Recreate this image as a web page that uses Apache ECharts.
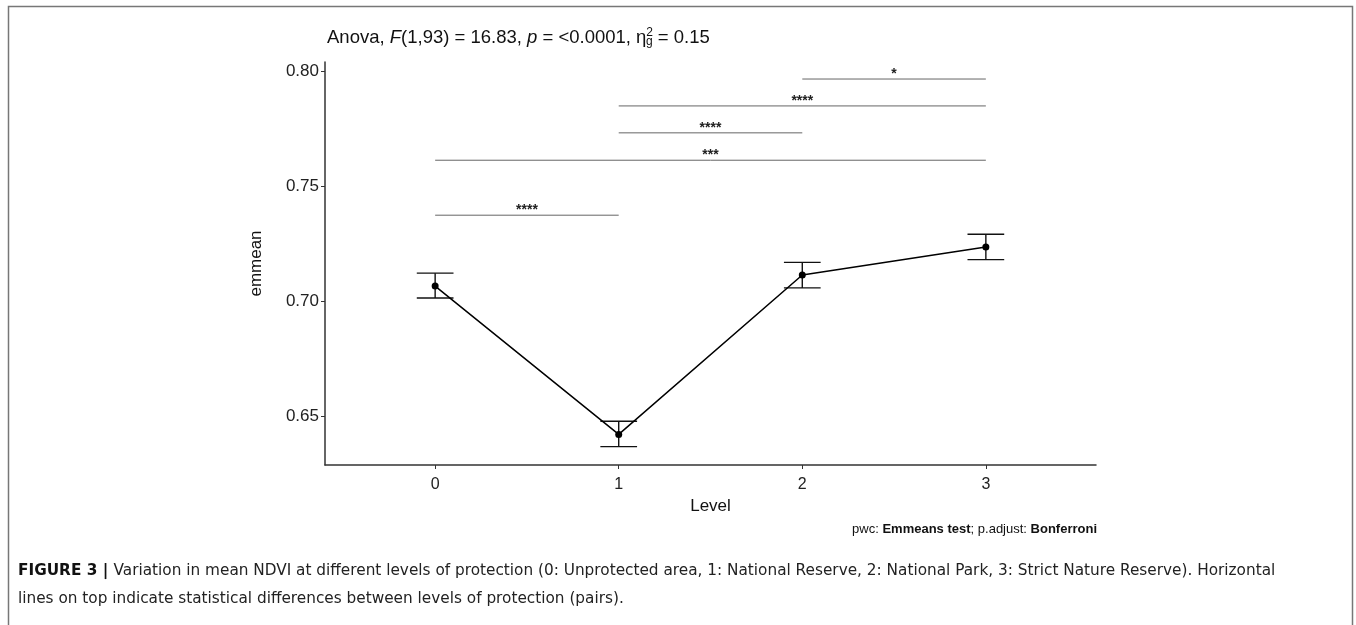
<!DOCTYPE html>
<html><head><meta charset="utf-8">
<script src="https://cdn.jsdelivr.net/npm/echarts@6/dist/echarts.min.js"></script>
<style>html,body{margin:0;padding:0;background:#fff}#c{width:1356px;height:625px}</style>
</head><body><div id="c"></div>
<script>
// data
const levels = [0, 1, 2, 3];
const emmean = [0.7065, 0.6420, 0.7113, 0.7235];
const lower = [0.7013, 0.6367, 0.7057, 0.7180];
const upper = [0.7121, 0.6477, 0.7168, 0.7290];
const yTicks = [0.65, 0.70, 0.75, 0.80];
const pairFrom = [0, 0, 1, 1, 2];
const pairTo = [1, 3, 2, 3, 3];
const pairY = [0.7373, 0.7612, 0.7731, 0.7848, 0.7965];
const pairLabel = ['****', '***', '****', '****', '*'];

const font = '"Liberation Sans", Arial, sans-serif';
const capFont = '"DejaVu Sans", sans-serif';
const chart = echarts.init(document.getElementById('c'));
chart.setOption({
  animation: false,
  title: {
    left: 322, top: 22,
    text: '{n|Anova, }{i|F}{n|(1,93) = 16.83, }{i|p}{n| = <0.0001, η}{s|2}{sub|g}{n| = 0.15}',
    textStyle: {
      fontWeight: 'normal',
      rich: {
        n: {fontSize: 18.5, color: '#111', fontFamily: font, fontWeight: 'normal'},
        i: {fontSize: 18.5, color: '#111', fontFamily: font, fontStyle: 'italic', fontWeight: 'normal'},
        s: {fontSize: 12, color: '#111', fontFamily: font, fontWeight: 'normal', verticalAlign: 'top', padding: [0,0,9,0]},
        sub: {fontSize: 12, color: '#111', fontFamily: font, fontWeight: 'normal', verticalAlign: 'bottom', padding: [9,0,0,-7]}
      }
    }
  },
  grid: {left: 325, right: 260, top: 62, bottom: 160},
  xAxis: {
    type: 'value', min: -0.6, max: 3.6,
    name: 'Level', nameLocation: 'middle', nameGap: 31,
    nameTextStyle: {fontSize: 17, color: '#111', fontFamily: font},
    axisLine: {onZero: false, lineStyle: {color: '#333', width: 1.5}},
    axisTick: {show: true, length: 4, lineStyle: {color: '#333'}, customValues: levels},
    axisLabel: {customValues: levels, fontSize: 16, color: '#222', fontFamily: font, margin: 12},
    splitLine: {show: false}
  },
  yAxis: {
    type: 'value', min: 0.6287, max: 0.8039,
    name: 'emmean', nameLocation: 'middle', nameGap: 60, nameRotate: 90,
    nameTextStyle: {fontSize: 17, color: '#111', fontFamily: font},
    axisLine: {show: true, onZero: false, lineStyle: {color: '#333', width: 1.5}},
    axisTick: {show: true, length: 4, lineStyle: {color: '#333'}, customValues: yTicks},
    axisLabel: {customValues: yTicks, fontSize: 17, color: '#222', fontFamily: font, margin: 6,
      formatter: v => v.toFixed(2)},
    splitLine: {show: false}
  },
  series: [
    {
      type: 'custom',
      data: levels.map((l, i) => [l, lower[i], upper[i]]),
      renderItem: (params, api) => {
        const x = api.value(0);
        const lo = api.coord([x, api.value(1)]);
        const hi = api.coord([x, api.value(2)]);
        const l = api.coord([x - 0.1, api.value(1)])[0];
        const r = api.coord([x + 0.1, api.value(1)])[0];
        const st = {stroke: '#111', lineWidth: 1.4};
        return {type: 'group', children: [
          {type: 'line', shape: {x1: lo[0], y1: lo[1], x2: hi[0], y2: hi[1]}, style: st},
          {type: 'line', shape: {x1: l, y1: lo[1], x2: r, y2: lo[1]}, style: st},
          {type: 'line', shape: {x1: l, y1: hi[1], x2: r, y2: hi[1]}, style: st}
        ]};
      },
      z: 2
    },
    {
      type: 'line',
      data: levels.map((l, i) => [l, emmean[i]]),
      symbol: 'circle', symbolSize: 7,
      itemStyle: {color: '#000'},
      lineStyle: {color: '#000', width: 1.5},
      z: 3
    },
    {
      type: 'custom',
      data: pairFrom.map((f, i) => [f, pairTo[i], pairY[i]]),
      renderItem: (params, api) => {
        const a = api.coord([api.value(0), api.value(2)]);
        const b = api.coord([api.value(1), api.value(2)]);
        return {type: 'group', children: [
          {type: 'line', shape: {x1: a[0], y1: a[1], x2: b[0], y2: b[1]}, style: {stroke: '#666', lineWidth: 1}},
          {type: 'text', x: (a[0] + b[0]) / 2, y: a[1] - 5,
           style: {text: pairLabel[params.dataIndex], fontSize: 14, fill: '#222', fontFamily: font,
                   align: 'center', verticalAlign: 'middle', fontWeight: 'bold'}}
        ]};
      },
      z: 2
    }
  ],
  graphic: [
    {type: 'rect', shape: {x: 8.5, y: 6.5, width: 1344, height: 640},
     style: {fill: 'none', stroke: '#777', lineWidth: 1.5}, silent: true},
    {type: 'text', x: 1097, y: 529,
     style: {text: '{n|pwc: }{b|Emmeans test}{n|; p.adjust: }{b|Bonferroni}',
       align: 'right', verticalAlign: 'middle',
       rich: {n: {fontSize: 13, fill: '#111', fontFamily: font},
              b: {fontSize: 13, fill: '#111', fontFamily: font, fontWeight: 'bold'}}}},
    {type: 'text', x: 18, y: 571,
     style: {text: '{b|FIGURE 3 | }{n|Variation in mean NDVI at different levels of protection (0: Unprotected area, 1: National Reserve, 2: National Park, 3: Strict Nature Reserve). Horizontal}',
       verticalAlign: 'middle',
       rich: {n: {fontSize: 15.3, fill: '#222', fontFamily: capFont},
              b: {fontSize: 15.3, fill: '#111', fontFamily: capFont, fontWeight: 'bold'}}}},
    {type: 'text', x: 18, y: 599,
     style: {text: 'lines on top indicate statistical differences between levels of protection (pairs).',
       verticalAlign: 'middle', fontSize: 15.3, fill: '#222', fontFamily: capFont}}
  ]
});
</script></body></html>
